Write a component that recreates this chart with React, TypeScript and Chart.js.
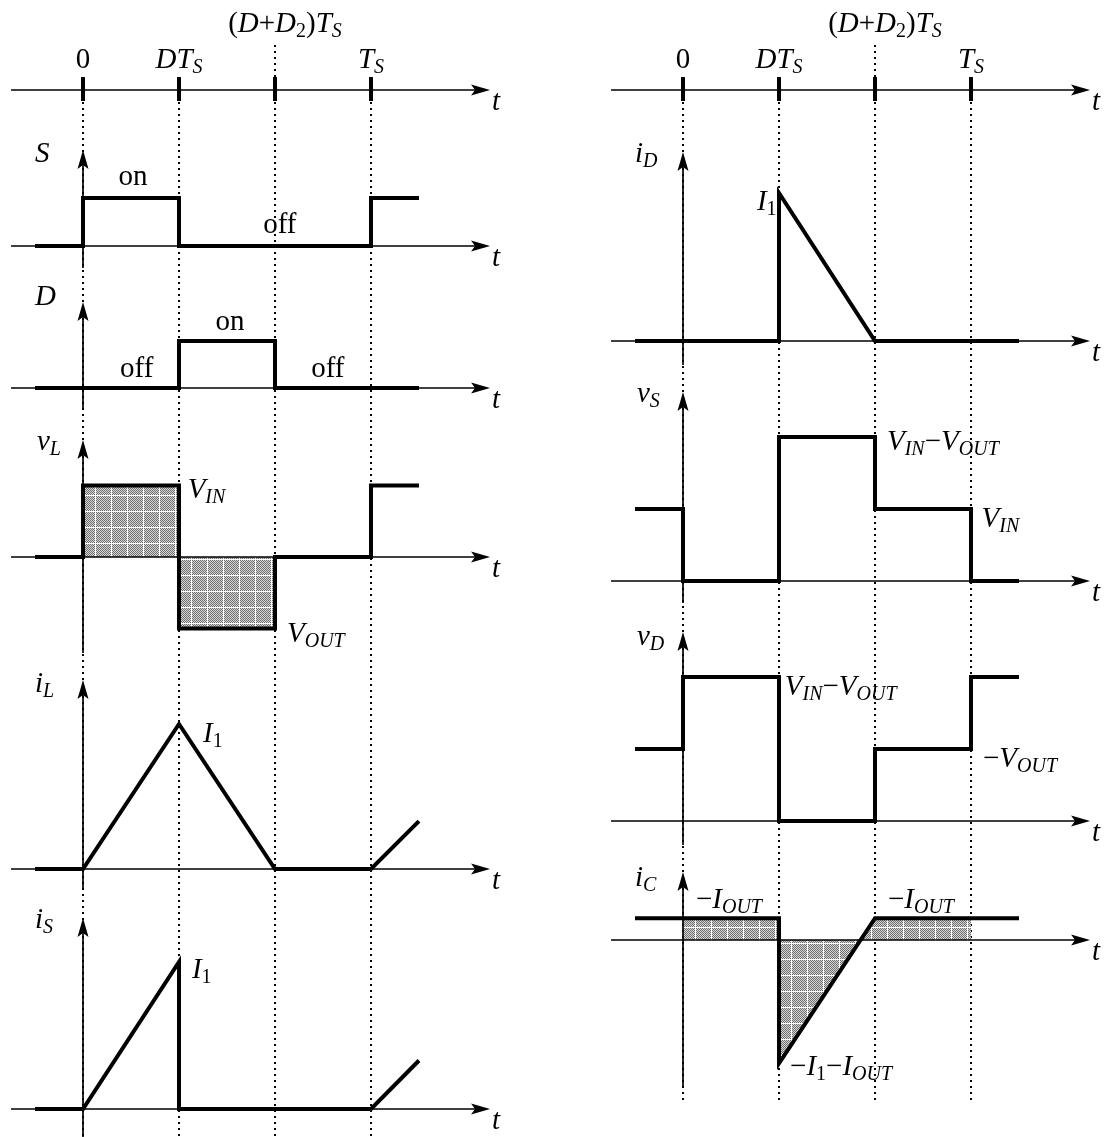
import { useEffect, useRef } from 'react';
import { Chart, registerables } from 'chart.js';

Chart.register(...registerables);

// ---------------- data ----------------
// time unit: D·T_S = 1  ->  DT_S = 1, (D+D2)T_S = 2, T_S = 3
const TICK_VALUES = [0, 1, 2, 3];
const TICK_LABELS = ['0', 'DT_{S}', '(D+D_{2})T_{S}', 'T_{S}'];

// left column waveforms
const S_T = [-0.5, 0, 0, 1, 1, 3, 3, 3.5];
const S_V = [0, 0, 1, 1, 0, 0, 1, 1];
const D_T = [-0.5, 1, 1, 2, 2, 3.5];
const D_V = [0, 0, 1, 1, 0, 0];
const VL_T = [-0.5, 0, 0, 1, 1, 2, 2, 3, 3, 3.5];
const VL_V = [0, 0, 1, 1, -1, -1, 0, 0, 1, 1];
const IL_T = [-0.5, 0, 1, 2, 3, 3.5];
const IL_V = [0, 0, 1, 0, 0, 0.33];
const IS_T = [-0.5, 0, 1, 1, 3, 3.5];
const IS_V = [0, 0, 1, 0, 0, 0.33];

// right column waveforms
const ID_T = [-0.5, 1, 1, 2, 3.5];
const ID_V = [0, 0, 1, 0, 0];
const VS_T = [-0.5, 0, 0, 1, 1, 2, 2, 3, 3, 3.5];
const VS_V = [1, 1, 0, 0, 2, 2, 1, 1, 0, 0];
const VD_T = [-0.5, 0, 0, 1, 1, 2, 2, 3, 3, 3.5];
const VD_V = [1, 1, 2, 2, 0, 0, 1, 1, 2, 2];
const IC_T = [-0.5, 1, 1, 2, 3.5];
const IC_V = [0.15, 0.15, -0.85, 0.15, 0.15];

// shaded areas (filled to zero)
const VL_FILL_T = [0, 0, 1, 1, 2, 2];
const VL_FILL_V = [0, 1, 1, -1, -1, 0];
const IC_FILL_T = [0, 0, 1, 1, 2, 3, 3];
const IC_FILL_V = [0, 0.15, 0.15, -0.85, 0.15, 0.15, 0];

// ---------------- layout ----------------
const H = 1137;
const X0 = 83; // pixel of t = 0 inside each column canvas
const PX_PER_T = 96;
const AXIS_T_START = -0.75;
const AXIS_T_END = 4.24;
const FONT = '"Liberation Serif", "Times New Roman", Times, serif';
const MAIN = 29;
const SUB = 20;
const SUB_DY = 5;
const WAVE_W = 4;
const AXIS_W = 1.7;

type Panel = { id: string; base: number; unit: number; axisTop?: number; axisBottom?: number };
type Label = { txt: string; axis: string; t: number; v: number; align?: 'left' | 'center'; plain?: boolean };
type Series = { axis: string; t: number[]; v: number[] };

const LEFT_PANELS: Panel[] = [
  { id: 'yT', base: 90, unit: 10 },
  { id: 'yS', base: 246, unit: 48, axisTop: 150, axisBottom: 268 },
  { id: 'yD', base: 388, unit: 47, axisTop: 302, axisBottom: 410 },
  { id: 'yVL', base: 557, unit: 71.5, axisTop: 440, axisBottom: 653 },
  { id: 'yIL', base: 869, unit: 145, axisTop: 680, axisBottom: 890 },
  { id: 'yIS', base: 1109, unit: 147, axisTop: 918, axisBottom: 1137 },
];
const RIGHT_PANELS: Panel[] = [
  { id: 'yT', base: 90, unit: 10 },
  { id: 'yID', base: 341, unit: 148, axisTop: 152, axisBottom: 365 },
  { id: 'yVS', base: 581, unit: 72, axisTop: 392, axisBottom: 603 },
  { id: 'yVD', base: 821, unit: 72, axisTop: 632, axisBottom: 845 },
  { id: 'yIC', base: 940, unit: 145, axisTop: 872, axisBottom: 1087 },
];

const LEFT_SERIES: Series[] = [
  { axis: 'yS', t: S_T, v: S_V },
  { axis: 'yD', t: D_T, v: D_V },
  { axis: 'yVL', t: VL_T, v: VL_V },
  { axis: 'yIL', t: IL_T, v: IL_V },
  { axis: 'yIS', t: IS_T, v: IS_V },
];
const RIGHT_SERIES: Series[] = [
  { axis: 'yID', t: ID_T, v: ID_V },
  { axis: 'yVS', t: VS_T, v: VS_V },
  { axis: 'yVD', t: VD_T, v: VD_V },
  { axis: 'yIC', t: IC_T, v: IC_V },
];
const LEFT_FILLS: Series[] = [{ axis: 'yVL', t: VL_FILL_T, v: VL_FILL_V }];
const RIGHT_FILLS: Series[] = [{ axis: 'yIC', t: IC_FILL_T, v: IC_FILL_V }];

const LEFT_LABELS: Label[] = [
  { txt: 'S', axis: 'yS', t: -0.5, v: 1.75 },
  { txt: 'on', axis: 'yS', t: 0.52, v: 1.27, align: 'center', plain: true },
  { txt: 'off', axis: 'yS', t: 2.05, v: 0.27, align: 'center', plain: true },
  { txt: 'D', axis: 'yD', t: -0.5, v: 1.77 },
  { txt: 'on', axis: 'yD', t: 1.53, v: 1.23, align: 'center', plain: true },
  { txt: 'off', axis: 'yD', t: 0.56, v: 0.23, align: 'center', plain: true },
  { txt: 'off', axis: 'yD', t: 2.55, v: 0.23, align: 'center', plain: true },
  { txt: 'v_{L}', axis: 'yVL', t: -0.48, v: 1.5 },
  { txt: 'V_{IN}', axis: 'yVL', t: 1.09, v: 0.83 },
  { txt: 'V_{OUT}', axis: 'yVL', t: 2.125, v: -1.19 },
  { txt: 'i_{L}', axis: 'yIL', t: -0.5, v: 1.22 },
  { txt: 'I_{1}', axis: 'yIL', t: 1.25, v: 0.876 },
  { txt: 'i_{S}', axis: 'yIS', t: -0.5, v: 1.23 },
  { txt: 'I_{1}', axis: 'yIS', t: 1.135, v: 0.89 },
];
const RIGHT_LABELS: Label[] = [
  { txt: 'i_{D}', axis: 'yID', t: -0.5, v: 1.21 },
  { txt: 'I_{1}', axis: 'yID', t: 0.77, v: 0.885 },
  { txt: 'v_{S}', axis: 'yVS', t: -0.48, v: 2.49 },
  { txt: 'V_{IN}\u2212V_{OUT}', axis: 'yVS', t: 2.125, v: 1.82 },
  { txt: 'V_{IN}', axis: 'yVS', t: 3.11, v: 0.75 },
  { txt: 'v_{D}', axis: 'yVD', t: -0.48, v: 2.44 },
  { txt: 'V_{IN}\u2212V_{OUT}', axis: 'yVD', t: 1.06, v: 1.75 },
  { txt: '\u2212V_{OUT}', axis: 'yVD', t: 3.125, v: 0.75 },
  { txt: 'i_{C}', axis: 'yIC', t: -0.5, v: 0.37 },
  { txt: '\u2212I_{OUT}', axis: 'yIC', t: 0.135, v: 0.22 },
  { txt: '\u2212I_{OUT}', axis: 'yIC', t: 2.135, v: 0.22 },
  { txt: '\u2212I_{1}\u2212I_{OUT}', axis: 'yIC', t: 1.115, v: -0.93 },
];

// tick label placement (time-axis panel units) and horizontal nudges in px
const TICK_LABEL_V = [2.2, 2.2, 5.8, 2.2];
const TICK_LABEL_DX = [0, 0, 10, 0];

type Column = {
  left: number;
  width: number;
  dottedBottom: number;
  panels: Panel[];
  series: Series[];
  fills: Series[];
  labels: Label[];
};

const COLUMNS: Column[] = [
  { left: 0, width: 600, dottedBottom: 1137, panels: LEFT_PANELS, series: LEFT_SERIES, fills: LEFT_FILLS, labels: LEFT_LABELS },
  { left: 600, width: 505, dottedBottom: 1100, panels: RIGHT_PANELS, series: RIGHT_SERIES, fills: RIGHT_FILLS, labels: RIGHT_LABELS },
];

// ---------------- helpers ----------------
type Run = { s: string; it: boolean; sub: boolean };
function parseRich(txt: string, plain?: boolean): Run[] {
  const runs: Run[] = [];
  const push = (s: string, sub: boolean) => {
    for (const ch of s) {
      const it = !plain && /[A-Za-z]/.test(ch);
      const last = runs[runs.length - 1];
      if (last && last.it === it && last.sub === sub) last.s += ch;
      else runs.push({ s: ch, it, sub });
    }
  };
  let i = 0;
  while (i < txt.length) {
    if (txt.startsWith('_{', i)) {
      const j = txt.indexOf('}', i);
      push(txt.slice(i + 2, j), true);
      i = j + 1;
    } else {
      push(txt[i], false);
      i++;
    }
  }
  return runs;
}

function fontOf(r: Run) {
  return `${r.it ? 'italic ' : ''}${r.sub ? SUB : MAIN}px ${FONT}`;
}

function drawRich(ctx: CanvasRenderingContext2D, txt: string, x: number, y: number, align: 'left' | 'center' = 'left', plain?: boolean) {
  const runs = parseRich(txt, plain);
  let w = 0;
  for (const r of runs) {
    ctx.font = fontOf(r);
    w += ctx.measureText(r.s).width;
  }
  let cx = align === 'center' ? x - w / 2 : x;
  ctx.textAlign = 'left';
  ctx.textBaseline = 'alphabetic';
  for (const r of runs) {
    ctx.font = fontOf(r);
    ctx.fillText(r.s, cx, y + (r.sub ? SUB_DY : 0));
    cx += ctx.measureText(r.s).width;
  }
}

function arrowHead(ctx: CanvasRenderingContext2D, x: number, y: number, dx: number, dy: number) {
  const L = 19, W = 5.5, N = 4;
  const bx = x - dx * L, by = y - dy * L;
  const px = -dy, py = dx;
  ctx.beginPath();
  ctx.moveTo(x, y);
  ctx.lineTo(bx + px * W, by + py * W);
  ctx.lineTo(x - dx * (L - N), y - dy * (L - N));
  ctx.lineTo(bx - px * W, by - py * W);
  ctx.closePath();
  ctx.fill();
}

function makeHatch(ctx: CanvasRenderingContext2D): CanvasPattern | string {
  const c = document.createElement('canvas');
  c.width = 16;
  c.height = 16;
  const g = c.getContext('2d');
  if (!g) return '#aaa';
  const img = g.createImageData(16, 16);
  for (let y = 0; y < 16; y++) {
    for (let x = 0; x < 16; x++) {
      let v: number;
      if (x === 15 || y === 15) v = 255;
      else v = (x + y) % 2 === 0 ? 110 : 215;
      const k = (y * 16 + x) * 4;
      img.data[k] = v;
      img.data[k + 1] = v;
      img.data[k + 2] = v;
      img.data[k + 3] = 255;
    }
  }
  g.putImageData(img, 0, 0);
  return ctx.createPattern(c, 'repeat') || '#aaa';
}

function toPoints(s: Series) {
  return s.t.map((t, i) => ({ x: t, y: s.v[i] }));
}

function ColumnChart({ col }: { col: Column }) {
  const ref = useRef<HTMLCanvasElement | null>(null);
  useEffect(() => {
    const canvas = ref.current;
    if (!canvas) return;
    const ctx0 = canvas.getContext('2d');
    if (!ctx0) return;
    const hatch = makeHatch(ctx0);

    const scales: any = {
      x: {
        type: 'linear',
        display: false,
        bounds: 'data',
        min: -X0 / PX_PER_T,
        max: (col.width - X0) / PX_PER_T,
      },
    };
    for (const p of col.panels) {
      scales[p.id] = {
        type: 'linear',
        display: false,
        bounds: 'data',
        position: 'left',
        min: -(H - p.base) / p.unit,
        max: p.base / p.unit,
      };
    }

    const datasets: any[] = [];
    for (const f of col.fills) {
      datasets.push({
        data: toPoints(f),
        xAxisID: 'x',
        yAxisID: f.axis,
        borderWidth: 0,
        borderColor: 'rgba(0,0,0,0)',
        backgroundColor: hatch,
        pointRadius: 0,
        fill: { value: 0 },
        tension: 0,
        order: 2,
      });
    }
    for (const s of col.series) {
      datasets.push({
        data: toPoints(s),
        xAxisID: 'x',
        yAxisID: s.axis,
        borderWidth: WAVE_W,
        borderColor: '#000',
        borderJoinStyle: 'miter',
        borderCapStyle: 'butt',
        pointRadius: 0,
        fill: false,
        tension: 0,
        order: 0,
      });
    }

    const decor = {
      id: 'waveDecor',
      beforeDatasetsDraw(chart: any) {
        const ctx: CanvasRenderingContext2D = chart.ctx;
        const xs = chart.scales.x;
        const yT = chart.scales.yT;
        const base = yT.getPixelForValue(0);
        ctx.save();
        ctx.strokeStyle = '#000';
        ctx.lineWidth = 2;
        ctx.setLineDash([2, 4]);
        TICK_VALUES.forEach((tv, i) => {
          const px = xs.getPixelForValue(tv);
          ctx.beginPath();
          ctx.moveTo(px, base + 12);
          ctx.lineTo(px, col.dottedBottom);
          if (i === 2) {
            ctx.moveTo(px, base - 45);
            ctx.lineTo(px, base - 13);
          }
          ctx.stroke();
        });
        ctx.restore();
      },
      afterDatasetsDraw(chart: any) {
        const ctx: CanvasRenderingContext2D = chart.ctx;
        const xs = chart.scales.x;
        ctx.save();
        ctx.strokeStyle = '#000';
        ctx.fillStyle = '#000';
        const x0 = xs.getPixelForValue(0);
        const xa = xs.getPixelForValue(AXIS_T_START);
        const xb = xs.getPixelForValue(AXIS_T_END);
        for (const p of col.panels) {
          const ys = chart.scales[p.id];
          const y0 = ys.getPixelForValue(0);
          // horizontal time axis
          ctx.lineWidth = AXIS_W;
          ctx.beginPath();
          ctx.moveTo(xa, y0);
          ctx.lineTo(xb - 10, y0);
          ctx.stroke();
          arrowHead(ctx, xb, y0, 1, 0);
          drawRich(ctx, 't', xb + 2, y0 + 20);
          // vertical axis
          if (p.axisTop !== undefined && p.axisBottom !== undefined) {
            ctx.lineWidth = AXIS_W;
            ctx.beginPath();
            ctx.moveTo(x0, p.axisBottom);
            ctx.lineTo(x0, p.axisTop + 10);
            ctx.stroke();
            arrowHead(ctx, x0, p.axisTop, 0, -1);
          }
        }
        // ticks on the time axis
        const yT = chart.scales.yT;
        const tb = yT.getPixelForValue(0);
        ctx.lineWidth = 4;
        TICK_VALUES.forEach((tv, i) => {
          const px = xs.getPixelForValue(tv);
          ctx.beginPath();
          ctx.moveTo(px, tb - 13);
          ctx.lineTo(px, tb + 11);
          ctx.stroke();
          drawRich(ctx, TICK_LABELS[i], px + TICK_LABEL_DX[i], yT.getPixelForValue(TICK_LABEL_V[i]), 'center');
        });
        // annotations
        for (const l of col.labels) {
          const ys = chart.scales[l.axis];
          drawRich(ctx, l.txt, xs.getPixelForValue(l.t), ys.getPixelForValue(l.v), l.align || 'left', l.plain);
        }
        ctx.restore();
      },
    };

    const chart = new Chart(canvas, {
      type: 'line',
      data: { datasets },
      options: {
        animation: false,
        responsive: false,
        maintainAspectRatio: false,
        events: [],
        layout: { padding: 0, autoPadding: false },
        plugins: { legend: { display: false }, tooltip: { enabled: false } },
        scales,
      } as any,
      plugins: [decor],
    });
    return () => chart.destroy();
  }, [col]);

  return (
    <canvas
      ref={ref}
      width={col.width}
      height={H}
      style={{ position: 'absolute', left: col.left, top: 0, width: col.width, height: H }}
    />
  );
}

export default function App() {
  return (
    <div style={{ position: 'fixed', left: 0, top: 0, width: 1105, height: H, background: '#fff', overflow: 'hidden' }}>
      {COLUMNS.map((c, i) => (
        <ColumnChart key={i} col={c} />
      ))}
    </div>
  );
}
